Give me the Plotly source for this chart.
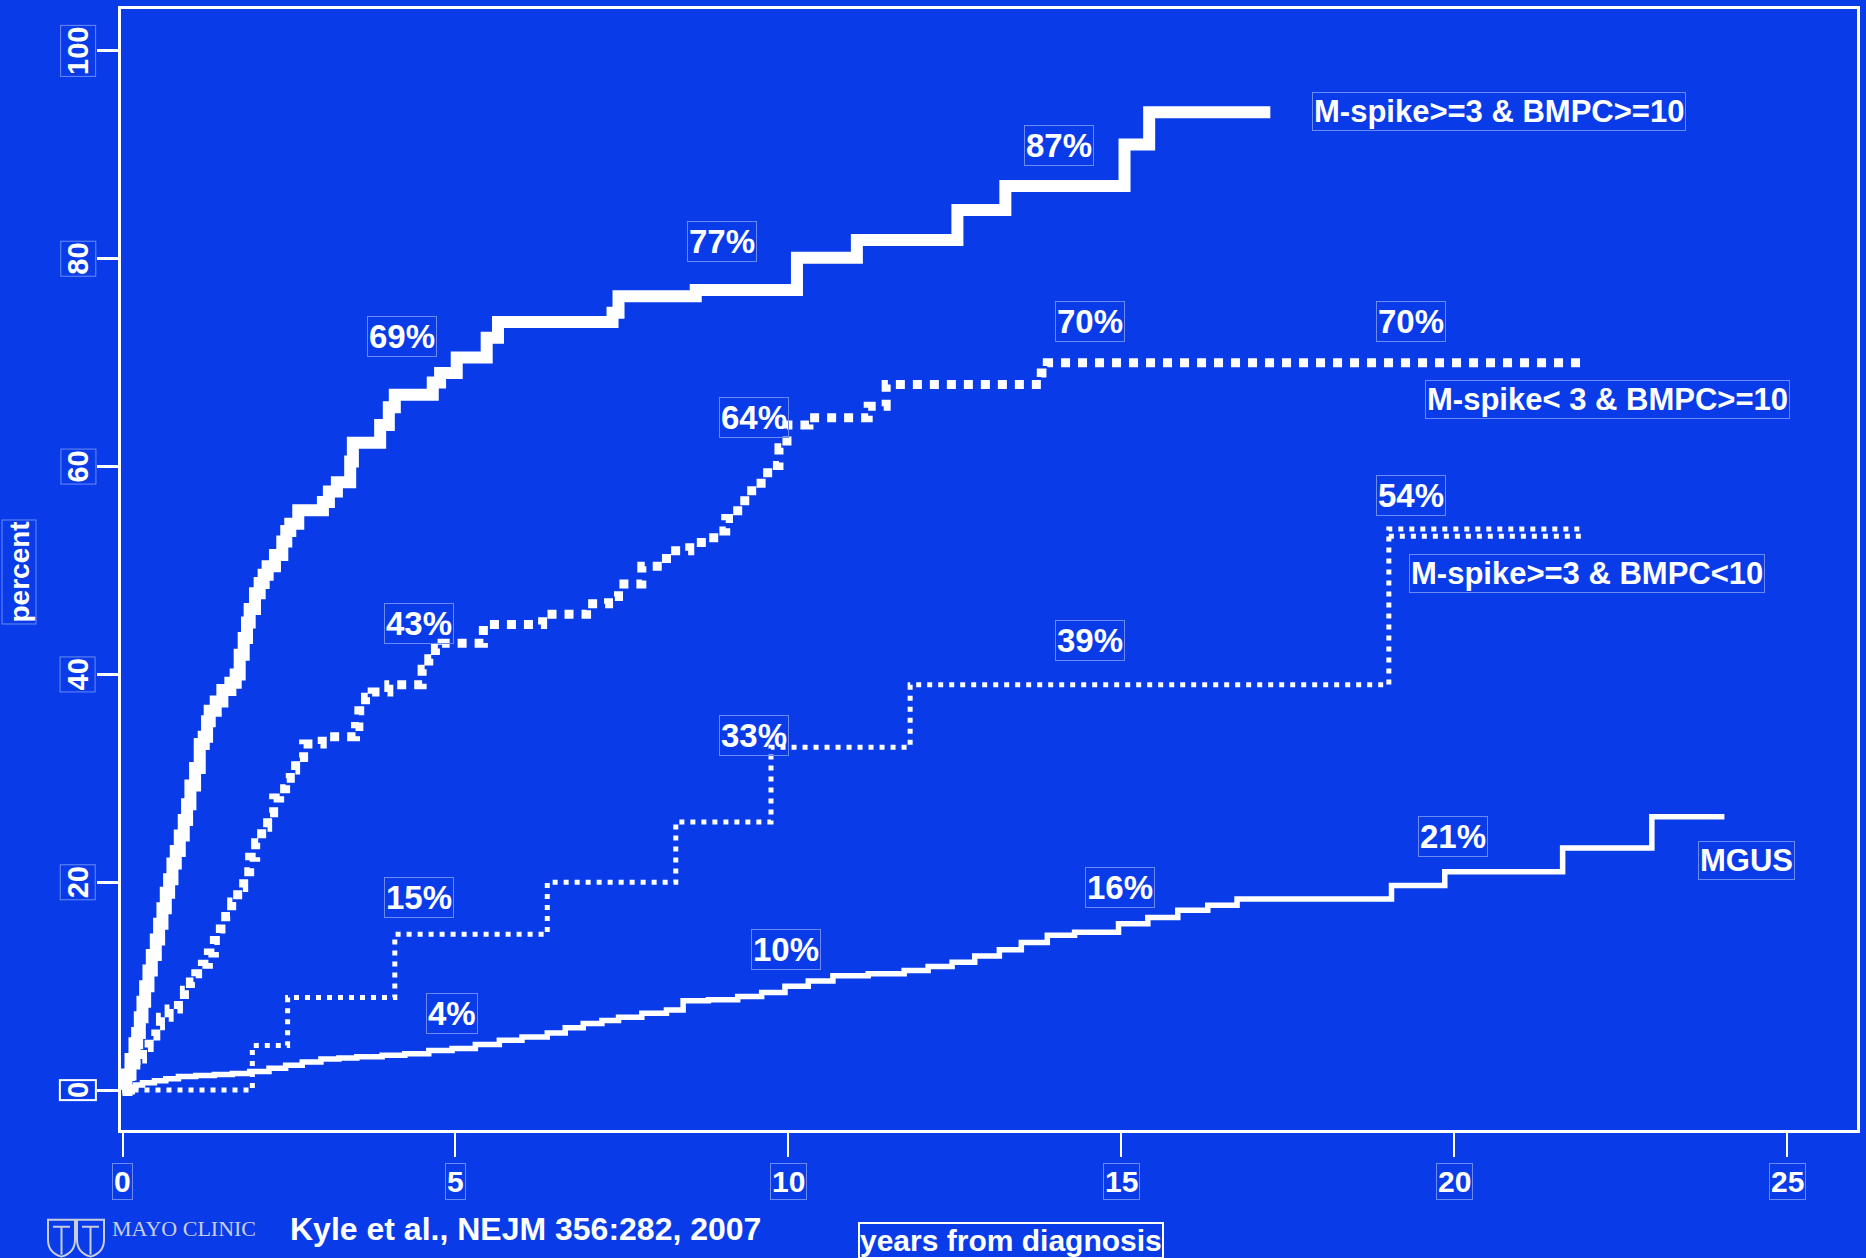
import plotly.graph_objects as go

# Cumulative probability of progression (percent) by years from diagnosis
high_x = [0, 0.06, 0.12, 0.18, 0.22, 0.26, 0.30, 0.34, 0.39, 0.44, 0.50, 0.55, 0.60, 0.65,
          0.70, 0.75, 0.80, 0.86, 0.92, 0.97, 1.02, 1.09, 1.16, 1.22, 1.27, 1.31, 1.40, 1.50,
          1.62, 1.70, 1.76, 1.82, 1.87, 1.91, 1.99, 2.06, 2.12, 2.18, 2.29, 2.40, 2.46, 2.52,
          2.64, 3.01, 3.10, 3.22, 3.42, 3.46, 3.87, 4.00, 4.09, 4.66, 4.77, 5.02, 5.47, 5.64,
          7.36, 7.45, 8.61, 10.13, 11.03, 12.54, 13.26, 15.05, 15.42, 17.24]
high_y = [0, 1.5, 3, 4.5, 5.5, 7, 8.5, 10, 11.5, 13, 14.5, 16, 17.5, 19,
          20.3, 21.8, 23, 24.5, 26, 27.5, 29.3, 31, 33.3, 34, 35.5, 36.5, 37.4, 38.5,
          39.2, 40, 41.9, 43.5, 45, 46.3, 47.8, 48.8, 49.6, 50.4, 51.5, 52.8, 53.8, 54.5,
          55.8, 56.6, 57.6, 58.5, 60.5, 62.3, 64, 65.7, 66.9, 68.1, 69, 70.5, 72.4, 73.9,
          74.8, 76.4, 77, 80.1, 81.8, 84.7, 87, 91, 94.1, 94.1]

bmpc_x = [0, 0.12, 0.20, 0.30, 0.40, 0.50, 0.57, 0.70, 0.84, 0.93, 1.02, 1.10, 1.20, 1.29,
          1.38, 1.47, 1.55, 1.64, 1.73, 1.82, 1.91, 2.00, 2.09, 2.18, 2.27, 2.36, 2.45, 2.52,
          2.60, 2.72, 3.00, 3.50, 3.55, 3.65, 3.75, 4.00, 4.50, 4.60, 4.70, 4.80, 5.42, 6.31,
          6.97, 7.30, 7.45, 7.80, 8.17, 8.52, 8.88, 9.06, 9.24, 9.45, 9.69, 9.86, 9.98, 10.31,
          11.20, 11.47, 13.80, 13.89, 21.90]
bmpc_y = [0, 1.5, 3, 4.1, 5.2, 6.2, 7, 7.8, 8.7, 9.6, 10.4, 11.2, 12.1, 13.2,
          14.4, 15.5, 16.7, 18.1, 19.5, 21, 22.4, 23.8, 25.3, 26.7, 28.1, 29, 30, 30.8,
          32, 33.3, 34, 35, 36.5, 37.8, 38.3, 39, 40.5, 41.5, 42.5, 43, 44.8, 45.8,
          46.8, 47.5, 48.7, 50.4, 51.9, 52.7, 53.8, 55, 56.7, 58.4, 60.1, 61.8, 64, 64.7,
          65.8, 67.9, 69, 70, 70]

spike_x = [0, 1.95, 2.48, 4.09, 6.38, 8.31, 9.74, 11.83, 19.02, 21.93]
spike_y = [0, 4.3, 8.9, 15, 20, 25.8, 33, 39, 54, 54]
spike_tail_x = [19.02, 21.93]
spike_tail_y = [53.3, 53.3]

mgus_x = [0, 0.10, 0.20, 0.30, 0.48, 0.65, 0.84, 1.10, 1.38, 1.65, 1.91, 2.20, 2.45, 2.70,
          2.98, 3.25, 3.52, 3.90, 4.24, 4.60, 4.95, 5.30, 5.66, 6.00, 6.38, 6.65, 6.92, 7.20,
          7.45, 7.80, 8.17, 8.42, 8.80, 9.24, 9.60, 9.95, 10.30, 10.67, 11.20, 11.74, 12.10,
          12.46, 12.80, 13.17, 13.50, 13.89, 14.30, 14.96, 15.40, 15.85, 16.30, 16.74, 19.06,
          19.86, 21.63, 22.97, 24.06]
mgus_y = [0, 0.3, 0.5, 0.7, 0.9, 1.1, 1.3, 1.4, 1.5, 1.6, 1.8, 2.1, 2.4, 2.7,
          3.0, 3.1, 3.2, 3.35, 3.5, 3.8, 4.0, 4.4, 4.8, 5.1, 5.5, 6.0, 6.4, 6.7,
          7.0, 7.4, 7.7, 8.6, 8.7, 9.0, 9.4, 10.0, 10.5, 11.0, 11.2, 11.5, 11.9,
          12.3, 12.9, 13.5, 14.2, 14.9, 15.2, 16.0, 16.6, 17.3, 17.8, 18.4, 19.7,
          21.0, 23.3, 26.3, 26.3]

pct_text = ["87%", "77%", "69%", "70%", "70%", "64%", "54%", "43%", "39%", "33%",
            "15%", "21%", "16%", "10%", "4%"]
pct_x = [14.07, 9.01, 4.20, 14.53, 19.36, 9.49, 19.36, 4.45, 14.53, 9.49,
         4.45, 19.98, 14.98, 9.97, 4.95]
pct_y = [90.9, 81.65, 72.5, 74.0, 74.0, 64.75, 57.2, 44.9, 43.3, 34.1,
         18.5, 24.4, 19.5, 13.5, 7.4]

group_text = ["M-spike>=3 & BMPC>=10", "M-spike< 3 & BMPC>=10", "M-spike>=3 & BMPC<10", "MGUS"]
group_x = [17.86, 19.56, 19.32, 23.66]
group_y = [94.2, 66.5, 49.7, 22.1]

x_ticks = [0, 5, 10, 15, 20, 25]
y_ticks = [0, 20, 40, 60, 80, 100]

BG = "#093CE8"
BOX = "#6A8BF5"
LOGO = "#C9CEDD"
FONT = "Liberation Sans, Arial, sans-serif"

W, H = 1866, 1258
ML, MR, MT, MB = 121, 9, 6, 128
PW, PH = W - ML - MR, H - MT - MB


def px(X):
    return (X - ML) / PW


def py(Y):
    return (H - MB - Y) / PH


def bold(size, color="white"):
    return dict(family=FONT, size=size, color=color, weight="bold")


fig = go.Figure()

fig.add_trace(go.Scatter(x=mgus_x, y=mgus_y, mode="lines", line_shape="hv",
                         line=dict(color="white", width=5.5), hoverinfo="skip"))
fig.add_trace(go.Scatter(x=spike_x, y=spike_y, mode="lines", line_shape="hv",
                         line=dict(color="white", width=5, dash="5px,6px"), hoverinfo="skip"))
fig.add_trace(go.Scatter(x=spike_tail_x, y=spike_tail_y, mode="lines", line_shape="hv",
                         line=dict(color="white", width=5, dash="5px,6px"), hoverinfo="skip"))
fig.add_trace(go.Scatter(x=bmpc_x, y=bmpc_y, mode="lines", line_shape="hv",
                         line=dict(color="white", width=9, dash="9px,8px"), hoverinfo="skip"))
fig.add_trace(go.Scatter(x=high_x, y=high_y, mode="lines", line_shape="hv",
                         line=dict(color="white", width=12), hoverinfo="skip"))

annotations = []
for t, x, y in zip(pct_text, pct_x, pct_y):
    annotations.append(dict(x=x, y=y, xref="x", yref="y", text=t, showarrow=False,
                            xanchor="center", yanchor="middle", font=bold(33),
                            bordercolor=BOX, borderwidth=1, borderpad=1))
for t, x, y in zip(group_text, group_x, group_y):
    annotations.append(dict(x=x, y=y, xref="x", yref="y", text=t, showarrow=False,
                            xanchor="left", yanchor="middle", font=bold(31),
                            bordercolor=BOX, borderwidth=1, borderpad=1))

# boxed tick labels
for v in x_ticks:
    annotations.append(dict(x=v, y=py(1182), xref="x", yref="paper", text=str(v),
                            showarrow=False, xanchor="center", yanchor="middle",
                            font=bold(30), bordercolor=BOX, borderwidth=1, borderpad=1))
for v in y_ticks:
    annotations.append(dict(x=px(78), y=v, xref="paper", yref="y", text=str(v),
                            showarrow=False, textangle=-90,
                            xanchor="center", yanchor="middle", font=bold(29),
                            bordercolor="white" if v == 0 else BOX,
                            borderwidth=2 if v == 0 else 1, borderpad=1))

annotations.append(dict(x=px(19), y=py(571), xref="paper", yref="paper", text="percent",
                        showarrow=False, textangle=-90, xanchor="center", yanchor="middle",
                        font=bold(28), bordercolor=BOX, borderwidth=1, borderpad=1))
annotations.append(dict(x=px(1011), y=py(1222), xref="paper", yref="paper",
                        text="years from diagnosis", showarrow=False,
                        xanchor="center", yanchor="top", font=bold(30),
                        bordercolor="white", borderwidth=2, borderpad=0))
annotations.append(dict(x=px(288), y=py(1229), xref="paper", yref="paper",
                        text="Kyle et al., NEJM 356:282, 2007", showarrow=False,
                        xanchor="left", yanchor="middle", font=bold(32)))
annotations.append(dict(x=px(110), y=py(1229), xref="paper", yref="paper",
                        text="MAYO CLINIC", showarrow=False, xanchor="left", yanchor="middle",
                        font=dict(family="Liberation Serif, DejaVu Serif, serif", size=22,
                                  color=LOGO)))

# shield logo outlines
shapes = []
for x0, x1 in [(48, 75), (77, 104)]:
    xc = (x0 + x1) / 2
    top, mid, bot = 1220, 1240, 1257
    path = (f"M {px(x0)},{py(top)} L {px(x1)},{py(top)} L {px(x1)},{py(mid)} "
            f"Q {px(x1)},{py(bot - 4)} {px(xc)},{py(bot)} "
            f"Q {px(x0)},{py(bot - 4)} {px(x0)},{py(mid)} Z")
    shapes.append(dict(type="path", path=path, xref="paper", yref="paper",
                       line=dict(color=LOGO, width=2)))
    shapes.append(dict(type="line", xref="paper", yref="paper",
                       x0=px(xc), x1=px(xc), y0=py(top + 7), y1=py(bot - 2),
                       line=dict(color=LOGO, width=2)))
    shapes.append(dict(type="line", xref="paper", yref="paper",
                       x0=px(x0 + 5), x1=px(x1 - 5), y0=py(top + 7), y1=py(top + 7),
                       line=dict(color=LOGO, width=2)))

x_lo = (ML - 122.5) / 66.58
x_hi = (ML + PW - 122.5) / 66.58
y_lo = (1090 - (H - MB)) / 10.42
y_hi = (1090 - MT) / 10.42

fig.update_layout(
    width=W, height=H,
    margin=dict(l=ML, r=MR, t=MT, b=MB, pad=0),
    paper_bgcolor=BG, plot_bgcolor=BG,
    showlegend=False,
    annotations=annotations,
    shapes=shapes,
    xaxis=dict(range=[x_lo, x_hi], tickvals=x_ticks, showticklabels=False,
               ticks="outside", ticklen=24, tickwidth=2, tickcolor="white",
               showline=True, linecolor="white", linewidth=3, mirror=True,
               showgrid=False, zeroline=False, fixedrange=True),
    yaxis=dict(range=[y_lo, y_hi], tickvals=y_ticks, showticklabels=False,
               ticks="outside", ticklen=21, tickwidth=3, tickcolor="white",
               showline=True, linecolor="white", linewidth=3, mirror=True,
               showgrid=False, zeroline=False, fixedrange=True),
)

fig.write_html("out.html")
